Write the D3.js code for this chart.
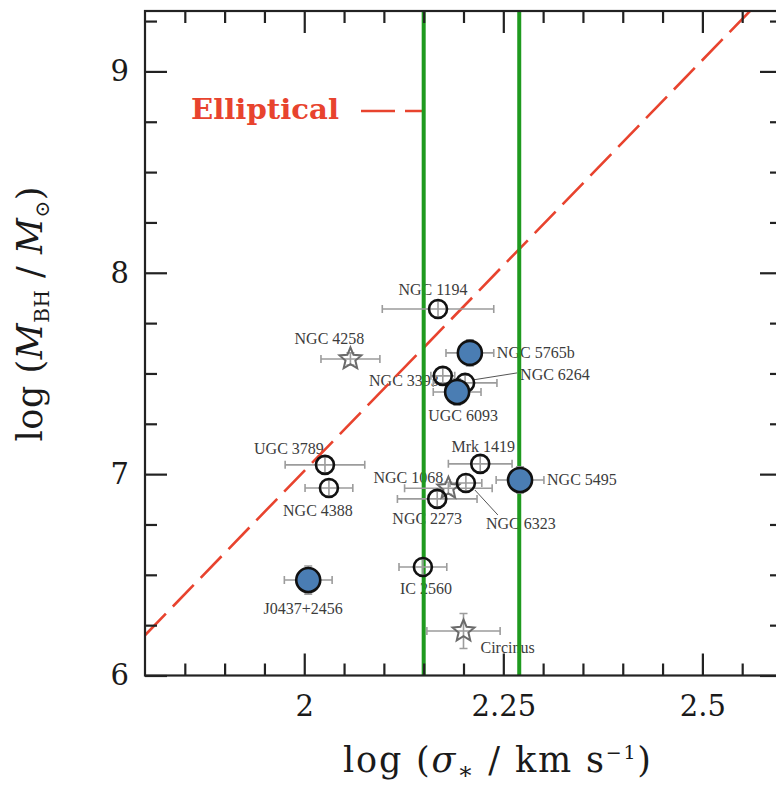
<!DOCTYPE html>
<html><head><meta charset="utf-8">
<script src="https://cdn.jsdelivr.net/npm/d3@7"></script>
<style>body{margin:0;background:#fff}svg{display:block}</style>
</head><body>
<svg id="chart" width="776" height="786"></svg>
<script>
// ---------------- data ----------------
const galaxies   = ["NGC 1194","NGC 4258","NGC 5765b","NGC 3393","NGC 6264","UGC 6093","UGC 3789","NGC 4388","Mrk 1419","NGC 5495","NGC 1068","NGC 6323","NGC 2273","J0437+2456","IC 2560","Circinus"];
const logSigma    = [2.168, 2.058, 2.208, 2.174, 2.202, 2.192, 2.026, 2.031, 2.221, 2.271, 2.181, 2.203, 2.167, 2.005, 2.149, 2.200];
const logSigmaErr = [0.070, 0.037, 0.030, 0.015, 0.040, 0.030, 0.050, 0.030, 0.040, 0.030, 0.055, 0.020, 0.050, 0.030, 0.030, 0.046];
const logMbh      = [7.820, 7.572, 7.602, 7.488, 7.453, 7.408, 7.046, 6.931, 7.051, 6.971, 6.930, 6.956, 6.877, 6.474, 6.539, 6.221];
const logMbhErr   = [0.040, 0.030, 0.065, 0.040, 0.040, 0.065, 0.040, 0.040, 0.040, 0.065, 0.030, 0.040, 0.040, 0.070, 0.040, 0.087];
const markerType  = ["open","star","filled","open","open","filled","open","open","open","filled","star","open","open","filled","open","star"];

const xMajorTicks = [2, 2.25, 2.5];
const xTickLabels = ["2", "2.25", "2.5"];
const yMajorTicks = [6, 7, 8, 9];
const yTickLabels = ["6", "7", "8", "9"];
const xMinorTicks = [1.85,1.9,1.95,2.05,2.1,2.15,2.2,2.3,2.35,2.4,2.45,2.55];
const yMinorTicks = [6.25,6.5,6.75,7.25,7.5,7.75,8.25,8.5,8.75,9.25];

const ellipticalSigma = [1.8, 2.6];
const ellipticalMbh   = [6.2, 9.464];
const verticalLines   = [2.15, 2.27];
const legendLabel = "Elliptical";

// ---------------- layout ----------------
const W = 776, H = 786;
const plot = {left: 145, right: 782, top: 11, bottom: 675.5};
const x = d3.scaleLinear().domain([1.8, 2.6]).range([plot.left, plot.right]);
const y = d3.scaleLinear().domain([6, 9.3]).range([plot.bottom, plot.top]);

// label placement relative to the point (pixels)
const labelLayout = {
  "NGC 1194":  {dx: -5,  dy: -14, a: "middle"},
  "NGC 4258":  {dx: -21, dy: -15, a: "middle"},
  "NGC 5765b": {dx: 27,  dy: 5.5, a: "start"},
  "NGC 3393":  {dx: -4,  dy: 10,  a: "end"},
  "NGC 6264":  {dx: 55,  dy: -3,  a: "start", leader: [8, -3, 52, -10]},
  "UGC 6093":  {dx: 6,   dy: 29,  a: "middle"},
  "UGC 3789":  {dx: -36, dy: -11, a: "middle"},
  "NGC 4388":  {dx: -11, dy: 28,  a: "middle"},
  "Mrk 1419":  {dx: 3,   dy: -12, a: "middle"},
  "NGC 5495":  {dx: 27,  dy: 5.5, a: "start"},
  "NGC 1068":  {dx: -40, dy: -5,  a: "middle"},
  "NGC 6323":  {dx: 55,  dy: 46,  a: "middle", leader: [9, 7, 32, 32]},
  "NGC 2273":  {dx: -10, dy: 25,  a: "middle"},
  "J0437+2456":{dx: -5,  dy: 34,  a: "middle"},
  "IC 2560":   {dx: 3,   dy: 27,  a: "middle"},
  "Circinus":  {dx: 17,  dy: 22,  a: "start"}
};

const svg = d3.select("#chart");
svg.append("rect").attr("width", W).attr("height", H).attr("fill", "#fff");

svg.append("defs").append("clipPath").attr("id", "clip")
  .append("rect").attr("x", plot.left).attr("y", plot.top)
  .attr("width", plot.right - plot.left).attr("height", plot.bottom - plot.top);

const pts = galaxies.map((g, i) => ({
  name: g, sx: logSigma[i], sxe: logSigmaErr[i], my: logMbh[i], mye: logMbhErr[i], type: markerType[i]
}));

// labels (under lines)
const labG = svg.append("g").attr("font-family", "'Liberation Serif', serif")
  .attr("font-size", 16).attr("fill", "#3c3c3c");
pts.forEach(p => {
  const L = labelLayout[p.name];
  const px = x(p.sx), py = y(p.my);
  labG.append("text").attr("x", px + L.dx).attr("y", py + L.dy)
    .attr("text-anchor", L.a).text(p.name);
  if (L.leader) {
    labG.append("line").attr("x1", px + L.leader[0]).attr("y1", py + L.leader[1])
      .attr("x2", px + L.leader[2]).attr("y2", py + L.leader[3])
      .attr("stroke", "#555").attr("stroke-width", 1);
  }
});

// elliptical relation
const red = "#e8432e";
svg.append("path").attr("clip-path", "url(#clip)")
  .datum(ellipticalSigma.map((s, i) => [s, ellipticalMbh[i]]))
  .attr("d", d3.line().x(d => x(d[0])).y(d => y(d[1])))
  .attr("fill", "none").attr("stroke", red).attr("stroke-width", 2.6)
  .attr("stroke-dasharray", "30,10");

// legend
svg.append("text").attr("x", 191).attr("y", 119)
  .attr("font-family", "'DejaVu Serif', serif").attr("font-size", 28).attr("font-weight", "bold")
  .attr("fill", red).attr("textLength", 148).attr("lengthAdjust", "spacingAndGlyphs")
  .text(legendLabel);
svg.append("line").attr("x1", 361).attr("x2", x(verticalLines[0])).attr("y1", 111).attr("y2", 111)
  .attr("stroke", red).attr("stroke-width", 2.6).attr("stroke-dasharray", "34,10");

// green vertical lines
svg.append("g").selectAll("line").data(verticalLines).join("line")
  .attr("x1", d => x(d)).attr("x2", d => x(d))
  .attr("y1", plot.top).attr("y2", plot.bottom)
  .attr("stroke", "#1f9a1f").attr("stroke-width", 4);

// error bars
const eb = svg.append("g").attr("stroke", "#9c9c9c").attr("stroke-width", 1.6).attr("fill", "none");
pts.forEach(p => {
  const px = x(p.sx), py = y(p.my);
  const x0 = x(p.sx - p.sxe), x1 = x(p.sx + p.sxe);
  const y0 = y(p.my - p.mye), y1 = y(p.my + p.mye);
  const c = 4;
  eb.append("path").attr("d",
    `M${x0},${py}H${x1}M${x0},${py - c}V${py + c}M${x1},${py - c}V${py + c}` +
    `M${px},${y0}V${y1}M${px - c},${y0}H${px + c}M${px - c},${y1}H${px + c}`);
});

// markers
function starPath(R) {
  const r = R * 0.45, ps = [];
  for (let k = 0; k < 10; k++) {
    const a = -Math.PI / 2 + k * Math.PI / 5, rr = k % 2 ? r : R;
    ps.push([rr * Math.cos(a), rr * Math.sin(a)]);
  }
  return d3.line()(ps) + "Z";
}
const mk = svg.append("g");
pts.forEach(p => {
  const px = x(p.sx), py = y(p.my);
  if (p.type === "open") {
    mk.append("circle").attr("cx", px).attr("cy", py).attr("r", 9)
      .attr("fill", "none").attr("stroke", "#111").attr("stroke-width", 2.6);
  } else if (p.type === "filled") {
    mk.append("circle").attr("cx", px).attr("cy", py).attr("r", 12)
      .attr("fill", "#4a7db3").attr("stroke", "#111").attr("stroke-width", 2.6);
  } else {
    mk.append("path").attr("transform", `translate(${px},${py})`).attr("d", starPath(11.5))
      .attr("fill", "none").attr("stroke", "#6a6a6a").attr("stroke-width", 2);
  }
});

// frame
svg.append("rect").attr("x", plot.left).attr("y", plot.top)
  .attr("width", plot.right - plot.left).attr("height", plot.bottom - plot.top)
  .attr("fill", "none").attr("stroke", "#222").attr("stroke-width", 2.2);

// axes (inward ticks on all sides)
function styleAxis(g) {
  g.select(".domain").remove();
  g.selectAll(".tick line").attr("stroke", "#222").attr("stroke-width", 2.2);
}
const fmtX = d => xTickLabels[xMajorTicks.indexOf(d)];
const fmtY = d => yTickLabels[yMajorTicks.indexOf(d)];
const tickFont = "'DejaVu Serif', serif";

svg.append("g").attr("transform", `translate(0,${plot.bottom})`)
  .call(d3.axisBottom(x).tickValues(xMajorTicks).tickSize(-22).tickPadding(20).tickFormat(fmtX))
  .call(styleAxis)
  .call(g => g.selectAll("text").attr("font-family", tickFont).attr("font-size", 29).attr("fill", "#1a1a1a"));
svg.append("g").attr("transform", `translate(0,${plot.bottom})`)
  .call(d3.axisBottom(x).tickValues(xMinorTicks).tickSize(-12).tickFormat(""))
  .call(styleAxis);
svg.append("g").attr("transform", `translate(0,${plot.top})`)
  .call(d3.axisTop(x).tickValues(xMajorTicks).tickSize(-22).tickFormat(""))
  .call(styleAxis);
svg.append("g").attr("transform", `translate(0,${plot.top})`)
  .call(d3.axisTop(x).tickValues(xMinorTicks).tickSize(-12).tickFormat(""))
  .call(styleAxis);

svg.append("g").attr("transform", `translate(${plot.left},0)`)
  .call(d3.axisLeft(y).tickValues(yMajorTicks).tickSize(-22).tickPadding(16).tickFormat(fmtY))
  .call(styleAxis)
  .call(g => g.selectAll("text").attr("font-family", tickFont).attr("font-size", 29).attr("fill", "#1a1a1a"));
svg.append("g").attr("transform", `translate(${plot.left},0)`)
  .call(d3.axisLeft(y).tickValues(yMinorTicks).tickSize(-12).tickFormat(""))
  .call(styleAxis);
svg.append("g").attr("transform", `translate(${plot.right},0)`)
  .call(d3.axisRight(y).tickValues(yMajorTicks).tickSize(-22).tickFormat(""))
  .call(styleAxis);
svg.append("g").attr("transform", `translate(${plot.right},0)`)
  .call(d3.axisRight(y).tickValues(yMinorTicks).tickSize(-12).tickFormat(""))
  .call(styleAxis);

// axis titles
const titleFont = "'DejaVu Serif', serif";
const xt = svg.append("text").attr("x", 497).attr("y", 772).attr("text-anchor", "middle")
  .attr("font-family", titleFont).attr("font-size", 35).attr("fill", "#1a1a1a")
  .attr("textLength", 308).attr("lengthAdjust", "spacing");
xt.append("tspan").text("log (");
xt.append("tspan").attr("font-style", "italic").text("σ");
xt.append("tspan").attr("font-size", 24).attr("dy", 7).text("∗");
xt.append("tspan").attr("dy", -7).text(" / km s");
xt.append("tspan").attr("font-size", 19).attr("dy", -13).text("−1");
xt.append("tspan").attr("dy", 13).text(")");

const yt = svg.append("text").attr("transform", "translate(42,314) rotate(-90)")
  .attr("text-anchor", "middle").attr("font-family", titleFont).attr("font-size", 35)
  .attr("fill", "#1a1a1a").attr("textLength", 255).attr("lengthAdjust", "spacing");
yt.append("tspan").text("log (");
yt.append("tspan").attr("font-style", "italic").text("M");
yt.append("tspan").attr("font-size", 20).attr("dy", 7).text("BH");
yt.append("tspan").attr("dy", -7).text(" / ");
yt.append("tspan").attr("font-style", "italic").text("M");
yt.append("tspan").attr("font-size", 20).attr("dy", 7).text("⊙");
yt.append("tspan").attr("dy", -7).text(")");
</script>
</body></html>
